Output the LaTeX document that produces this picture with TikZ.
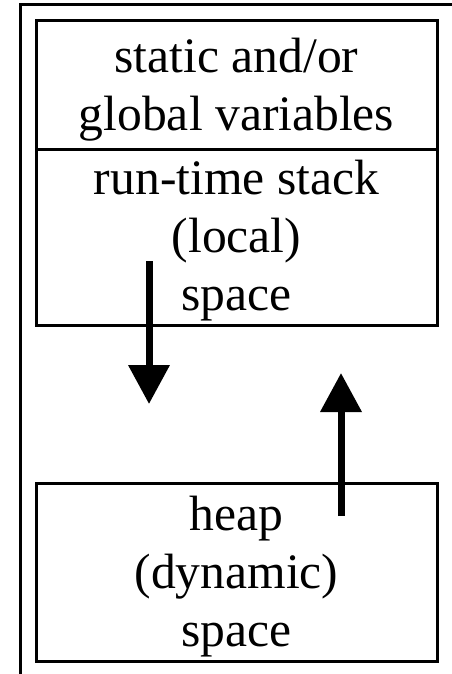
\documentclass[tikz,border=0pt]{standalone}
\usepackage{fontspec}
\setmainfont{Liberation Serif}
\usetikzlibrary{arrows.meta}
% invisible struts that set the height of a node's first text line
% and the depth of its last one
\newcommand{\firstline}[1]{\rule{0pt}{#1}}
\newcommand{\lastline}[1]{\rule[-#1]{0pt}{#1}}
\begin{document}
\begin{tikzpicture}[x=1pt,y=-1pt,
  memblock/.style={draw=black, line width=3pt, rectangle, inner sep=0pt,
    minimum width=401pt, align=center,
    font=\fontsize{49.6}{58}\selectfont},
  growth/.style={line width=7pt, -{Triangle[length=39pt,width=40pt]}},
  frame/.style={line width=3pt}]
  \useasboundingbox (0,0) rectangle (452,674);

  % memory area frame (top and left edges)
  \coordinate (frameR) at (454,4.5);
  \coordinate (frameC) at (20,4.5);
  \coordinate (frameB) at (20,676);
  \draw[frame] (frameR) -- (frameC) -- (frameB);

  % memory segments
  \node[memblock, minimum height=128pt] (static) at (236.5,85)
    {\firstline{47pt}static and/or\\global variables\lastline{15pt}};
  \node[memblock, minimum height=176pt] (stack) at (236.5,237)
    {\firstline{45pt}run-time stack\\(local)\\space\lastline{15pt}};
  \node[memblock, minimum height=174pt] (heap) at (236.5,572)
    {\firstline{47pt}heap\\(dynamic)\\space\lastline{15pt}};

  % growth directions
  \coordinate (stackFrom) at (149,261);
  \coordinate (stackTo) at (149,404);
  \coordinate (heapFrom) at (341,516);
  \coordinate (heapTo) at (341,373);
  \draw[growth] (stackFrom) -- (stackTo);
  \draw[growth] (heapFrom) -- (heapTo);
\end{tikzpicture}
\end{document}
